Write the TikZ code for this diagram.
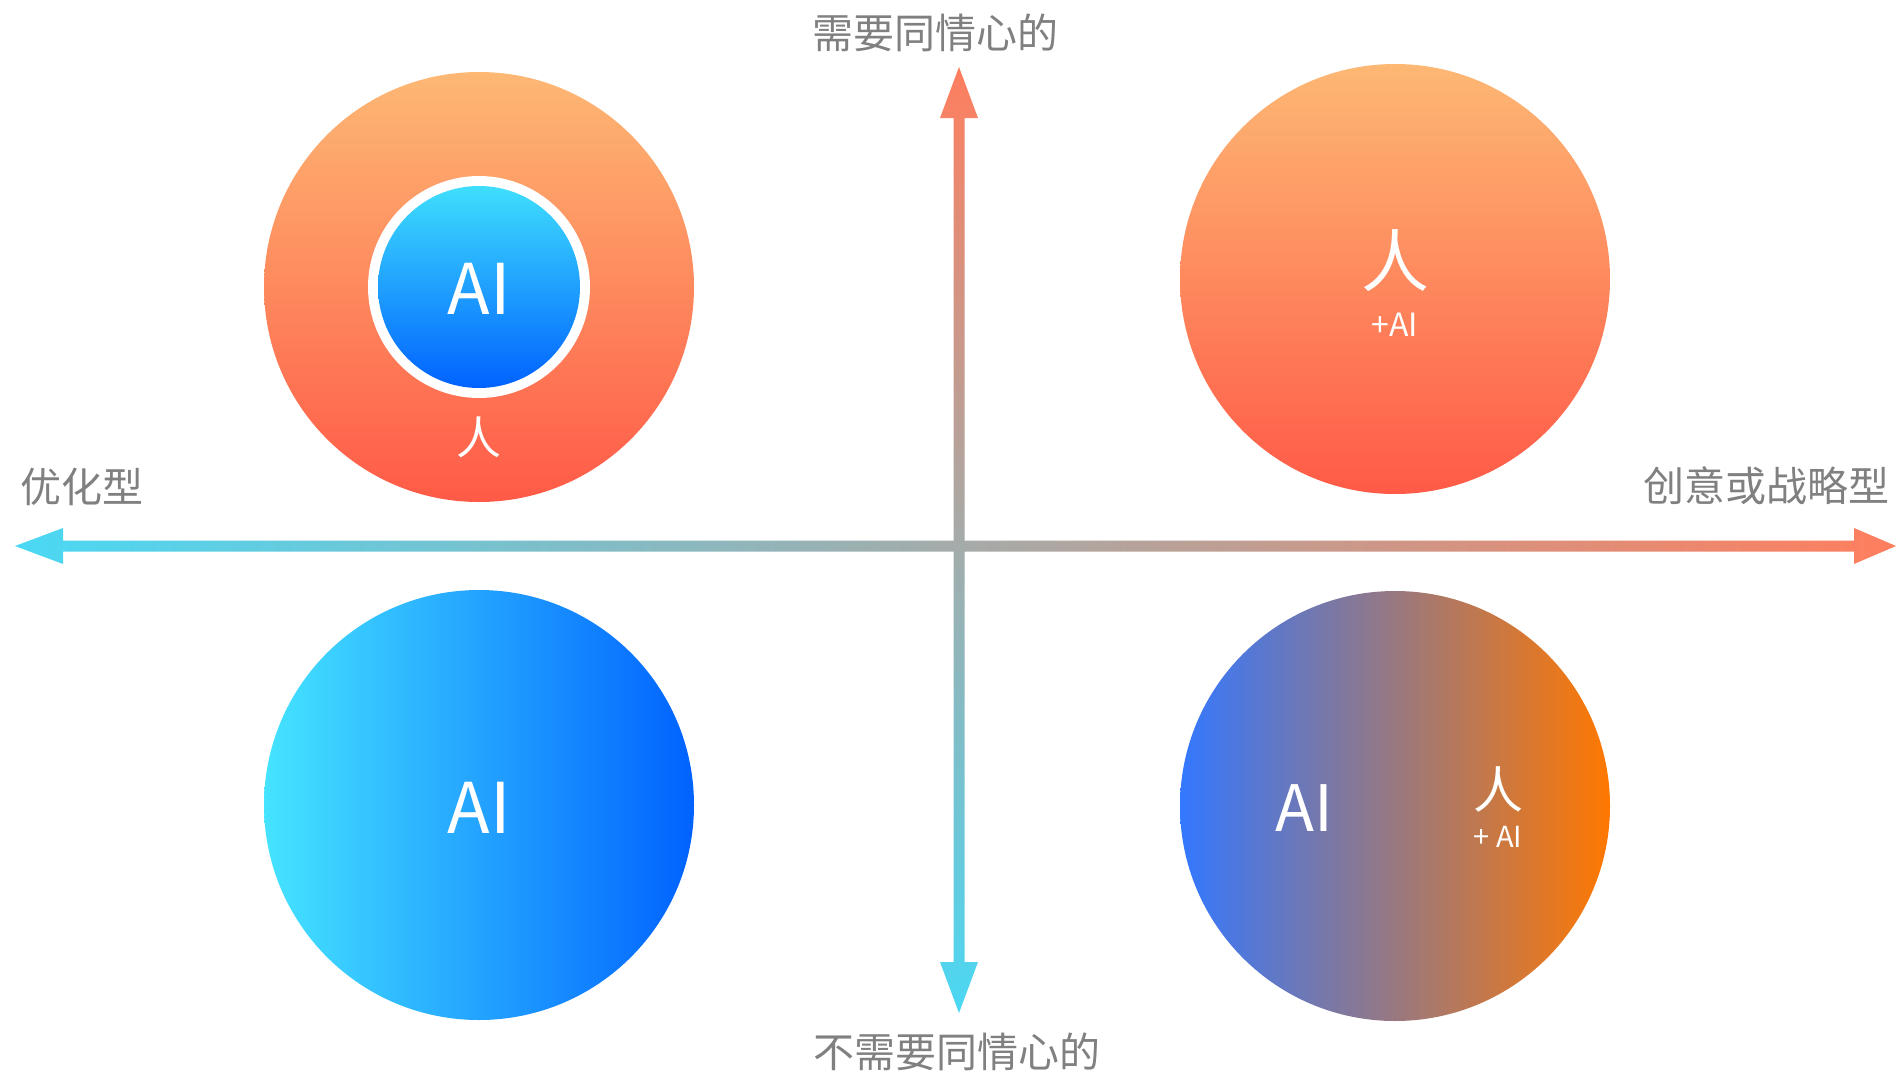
\documentclass[tikz,border=0pt]{standalone}
\usepackage{fontspec}
\setmainfont{Noto Sans CJK SC}
\usetikzlibrary{calc}
\definecolor{axcyan}{HTML}{4AD8F4}
\definecolor{axcoral}{HTML}{FF7E5E}
\definecolor{ortop}{HTML}{FDB874}
\definecolor{orbot}{HTML}{FF5A47}
\definecolor{bltop}{HTML}{3FDEFD}
\definecolor{blbot}{HTML}{0062FF}
\definecolor{blleft}{HTML}{46E4FF}
\definecolor{mixleft}{HTML}{3378FF}
\definecolor{mixmid}{HTML}{9A6F9A}
\definecolor{mixright}{HTML}{FF7800}
\definecolor{labgrey}{HTML}{808080}
\tikzset{
  axlabel/.style={text=labgrey, inner sep=0pt, font=\fontsize{41}{41}\selectfont},
  big/.style={circle, minimum size=430pt, inner sep=0pt},
  wtext/.style={text=white, inner sep=0pt},
}
\begin{document}
\begin{tikzpicture}[x=1pt,y=-1pt]
\useasboundingbox (0,0) rectangle (1896,1074);
% circles
\node[big, top color=ortop, bottom color=orbot] (tl) at (479,287) {};
\node[circle, minimum size=222pt, inner sep=0pt, fill=white] (ring) at (479,287) {};
\node[circle, minimum size=202pt, inner sep=0pt, top color=bltop, bottom color=blbot] (inner) at (479,287) {};
\node[big, top color=ortop, bottom color=orbot] (tr) at (1395,279) {};
\node[big, left color=blleft, right color=blbot] (bl) at (479,805) {};
\node[big, left color=mixleft, middle color=mixmid, right color=mixright] (br) at (1395,806) {};
% circle texts
\node[wtext, font=\fontsize{70}{70}\selectfont] (tlai) at (479,289) {AI};
\node[wtext, font=\fontsize{45}{45}\selectfont] (tlren) at (479,437) {人};
\node[wtext, font=\fontsize{68}{68}\selectfont] (trren) at (1395,261) {人};
\node[wtext, font=\fontsize{32}{32}\selectfont] (trai) at (1395,325) {+AI};
\node[wtext, font=\fontsize{70}{70}\selectfont] (blai) at (479,808) {AI};
\node[wtext, font=\fontsize{64}{64}\selectfont] (brai) at (1304,808) {AI};
\node[wtext, font=\fontsize{50}{50}\selectfont] (brren) at (1498,789) {人};
\node[wtext, font=\fontsize{29}{29}\selectfont] (brplus) at (1498,837) {+ AI};
% axes
\coordinate (W) at (15,546);
\coordinate (E) at (1896,546);
\coordinate (N) at (959,67);
\coordinate (S) at (959,1013);
\shade[left color=axcyan, right color=axcoral]
  (W) -- ($(W)+(48,-18)$) -- ($(W)+(48,-5.5)$) -- ($(E)+(-42,-5.5)$) -- ($(E)+(-42,-18)$)
  -- (E) -- ($(E)+(-42,18)$) -- ($(E)+(-42,5.5)$) -- ($(W)+(48,5.5)$) -- ($(W)+(48,18)$) -- cycle;
\shade[top color=axcoral, bottom color=axcyan]
  (N) -- ($(N)+(19,51)$) -- ($(N)+(5.5,51)$) -- ($(S)+(5.5,-51)$) -- ($(S)+(19,-51)$)
  -- (S) -- ($(S)+(-19,-51)$) -- ($(S)+(-5.5,-51)$) -- ($(N)+(-5.5,51)$) -- ($(N)+(-19,51)$) -- cycle;
% axis labels
\node[axlabel] (top) at (935,33) {需要同情心的};
\node[axlabel] (bottom) at (957,1052) {不需要同情心的};
\node[axlabel] (left) at (82,487) {优化型};
\node[axlabel, anchor=east] (right) at (1890,486) {创意或战略型};
\end{tikzpicture}
\end{document}
